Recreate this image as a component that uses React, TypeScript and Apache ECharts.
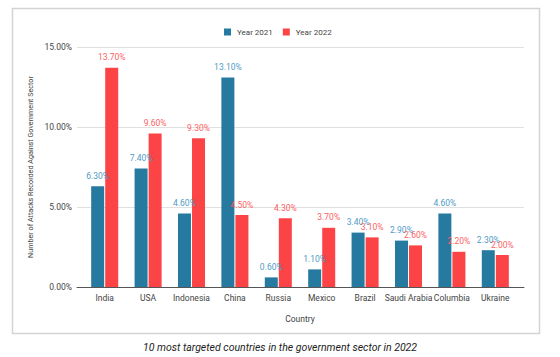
import React, { useEffect, useRef } from "react";
import * as echarts from "echarts";

const countries = ["India", "USA", "Indonesia", "China", "Russia", "Mexico", "Brazil", "Saudi Arabia", "Columbia", "Ukraine"];
const year2021 = [6.3, 7.4, 4.6, 13.1, 0.6, 1.1, 3.4, 2.9, 4.6, 2.3];
const year2022 = [13.7, 9.6, 9.3, 4.5, 4.3, 3.7, 3.1, 2.6, 2.2, 2.0];
const seriesNames = ["Year 2021", "Year 2022"];
const yTicks = { min: 0, max: 15, interval: 5 };
const caption = "10 most targeted countries in the government sector in 2022";
const yTitle = "Number of Attacks Recorded Against Government Sector";
const xTitle = "Country";

const FONT = "Roboto";
const pct = (v: number) => v.toFixed(2) + "%";

export default function App() {
  const ref = useRef<HTMLDivElement>(null);
  useEffect(() => {
    if (!ref.current) return;
    const chart = echarts.init(ref.current, undefined, { renderer: "svg" });
    chart.setOption({
      animation: false,
      textStyle: { fontFamily: FONT },
      title: {
        text: caption,
        left: "center",
        top: 337,
        textStyle: { fontFamily: FONT, fontSize: 10.5, fontStyle: "italic", fontWeight: "normal", color: "#222" },
      },
      graphic: [
        {
          type: "rect",
          shape: { x: 12.5, y: 8.5, width: 527, height: 325 },
          style: { fill: "none", stroke: "#d4d4d4", lineWidth: 1.5 },
          silent: true,
        },
      ],
      legend: {
        top: 23,
        left: 219,
        icon: "rect",
        itemWidth: 7,
        itemHeight: 7,
        itemGap: 10,
        textStyle: { fontFamily: FONT, fontSize: 8, color: "#444", padding: [0, 0, 0, 1] },
        data: seriesNames,
      },
      grid: [
        { left: 83, right: 43, top: 47, bottom: 70 },
        { left: 77, right: 36, top: 47, bottom: 70 },
      ],
      xAxis: [
        {
          type: "category",
          gridIndex: 0,
          data: countries,
          axisLine: { show: false },
          axisTick: { show: false },
          axisLabel: { fontFamily: FONT, fontSize: 8.5, color: "#444", margin: 6, interval: 0 },
          name: xTitle,
          nameLocation: "middle",
          nameGap: 27,
          nameTextStyle: { fontFamily: FONT, fontSize: 8.5, color: "#444" },
        },
        {
          type: "value",
          gridIndex: 1,
          min: 0,
          max: 1,
          axisLine: { show: true, lineStyle: { color: "#555", width: 1 } },
          axisTick: { show: false },
          axisLabel: { show: false },
          splitLine: { show: false },
        },
      ],
      yAxis: [
        {
          type: "value",
          gridIndex: 0,
          min: yTicks.min,
          max: yTicks.max,
          interval: yTicks.interval,
          axisLabel: { show: false },
          axisLine: { show: false },
          axisTick: { show: false },
          splitLine: { show: false },
        },
        {
          type: "value",
          gridIndex: 1,
          min: yTicks.min,
          max: yTicks.max,
          interval: yTicks.interval,
          axisLabel: { formatter: (v: number) => pct(v), fontFamily: FONT, fontSize: 8.5, color: "#444", margin: 5 },
          axisLine: { show: false },
          axisTick: { show: false },
          splitLine: { show: true, lineStyle: { color: "#e0e0e0", width: 1 } },
          name: yTitle,
          nameLocation: "middle",
          nameGap: 32,
          nameTextStyle: { fontFamily: FONT, fontSize: 7.2, color: "#444" },
        },
      ],
      series: [
        {
          name: seriesNames[0],
          type: "bar",
          xAxisIndex: 0,
          yAxisIndex: 0,
          data: year2021,
          barWidth: 13,
          barGap: "8%",
          itemStyle: { color: "#26799f" },
          label: { show: true, position: "top", distance: 6, formatter: (p: any) => pct(p.value), fontFamily: FONT, fontSize: 8.5, color: "#4f9bc6" },
        },
        {
          name: seriesNames[1],
          type: "bar",
          xAxisIndex: 0,
          yAxisIndex: 0,
          data: year2022,
          barWidth: 13,
          barGap: "8%",
          itemStyle: { color: "#fc4346" },
          label: { show: true, position: "top", distance: 6, formatter: (p: any) => pct(p.value), fontFamily: FONT, fontSize: 8.5, color: "#fd6163" },
        },
      ],
    });
    return () => chart.dispose();
  }, []);
  return <div ref={ref} style={{ position: "absolute", left: 0, top: 0, width: 560, height: 357 }} />;
}
